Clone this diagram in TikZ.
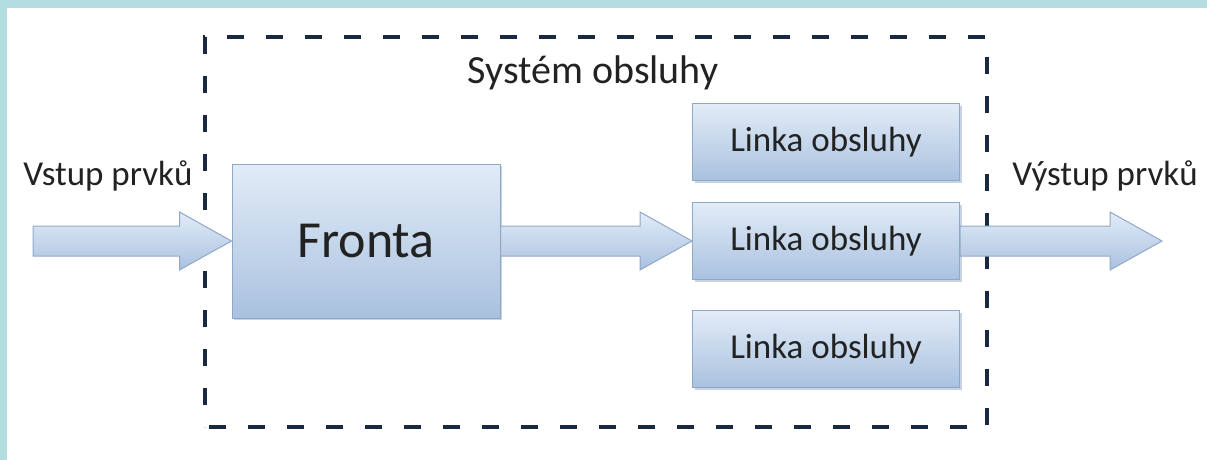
\documentclass[tikz,border=0pt]{standalone}
\usepackage{fontspec}
\setmainfont{Carlito}
\usetikzlibrary{positioning,calc,shadows}

\definecolor{frameteal}{HTML}{B3DDE1}
\definecolor{dashnavy}{HTML}{1B2940}
\definecolor{boxlight}{HTML}{E2ECF7}
\definecolor{boxdark}{HTML}{A9C1DF}
\definecolor{boxedge}{HTML}{8FA8C8}
\definecolor{txtdark}{HTML}{222222}

\tikzset{
  box/.style={draw=boxedge, line width=1pt, top color=boxlight, bottom color=boxdark,
    text=txtdark, inner sep=0pt,
    drop shadow={shadow xshift=2pt, shadow yshift=-2pt, fill=boxedge, opacity=0.5}},
  linka/.style={box, minimum width=267pt, minimum height=77pt, font=\fontsize{35}{40}\selectfont},
  flowtext/.style={text=txtdark, inner sep=0pt, anchor=base, font=\fontsize{35}{40}\selectfont},
  sysbox/.style={draw=dashnavy, line width=4pt, dash pattern=on 17pt off 22pt, dash phase=-4pt},
  blockarrow/.style={draw=boxedge, line width=1pt, top color=boxlight, bottom color=boxdark, line join=miter}
}

% block arrow from #1 to #2 (same height)
\newcommand\flowarrow[2]{%
  \path[blockarrow] ($(#1)+(0,-15)$) -- ($(#2)+(-52,-15)$) -- ($(#2)+(-52,-29)$) -- (#2)
    -- ($(#2)+(-52,29)$) -- ($(#2)+(-52,15)$) -- ($(#1)+(0,15)$) -- cycle;}

\begin{document}
\begin{tikzpicture}[x=1pt, y=-1pt]
    \useasboundingbox (0,0) rectangle (1207,460);

    % Frame
    \fill[frameteal] (0,0) rectangle (1207,8);
    \fill[frameteal] (0,0) rectangle (7,460);

    % Service system
    \node[sysbox, minimum width=782pt, minimum height=390pt] (system) at (596,232) {};
    \node[flowtext, font=\fontsize{40}{46}\selectfont] (title) at (593,84) {Systém obsluhy};

    % Queue and service lines
    \node[box, minimum width=268pt, minimum height=154pt, font=\fontsize{52}{60}\selectfont] (fronta) at (366,241) {Fronta};
    \node[linka] (linka1) at (826,142) {Linka obsluhy};
    \node[linka] (linka2) at (826,241) {Linka obsluhy};
    \node[linka] (linka3) at (826,349) {Linka obsluhy};

    % Input and output
    \coordinate (in) at (33,241);
    \coordinate (out) at (1162,241);
    \node[flowtext] (vstup) at (108,185) {Vstup prvků};
    \node[flowtext] (vystup) at (1105,185) {Výstup prvků};

    % Arrows
    \flowarrow{in}{fronta.west}
    \flowarrow{fronta.east}{linka2.west}
    \flowarrow{linka2.east}{out}
\end{tikzpicture}
\end{document}
